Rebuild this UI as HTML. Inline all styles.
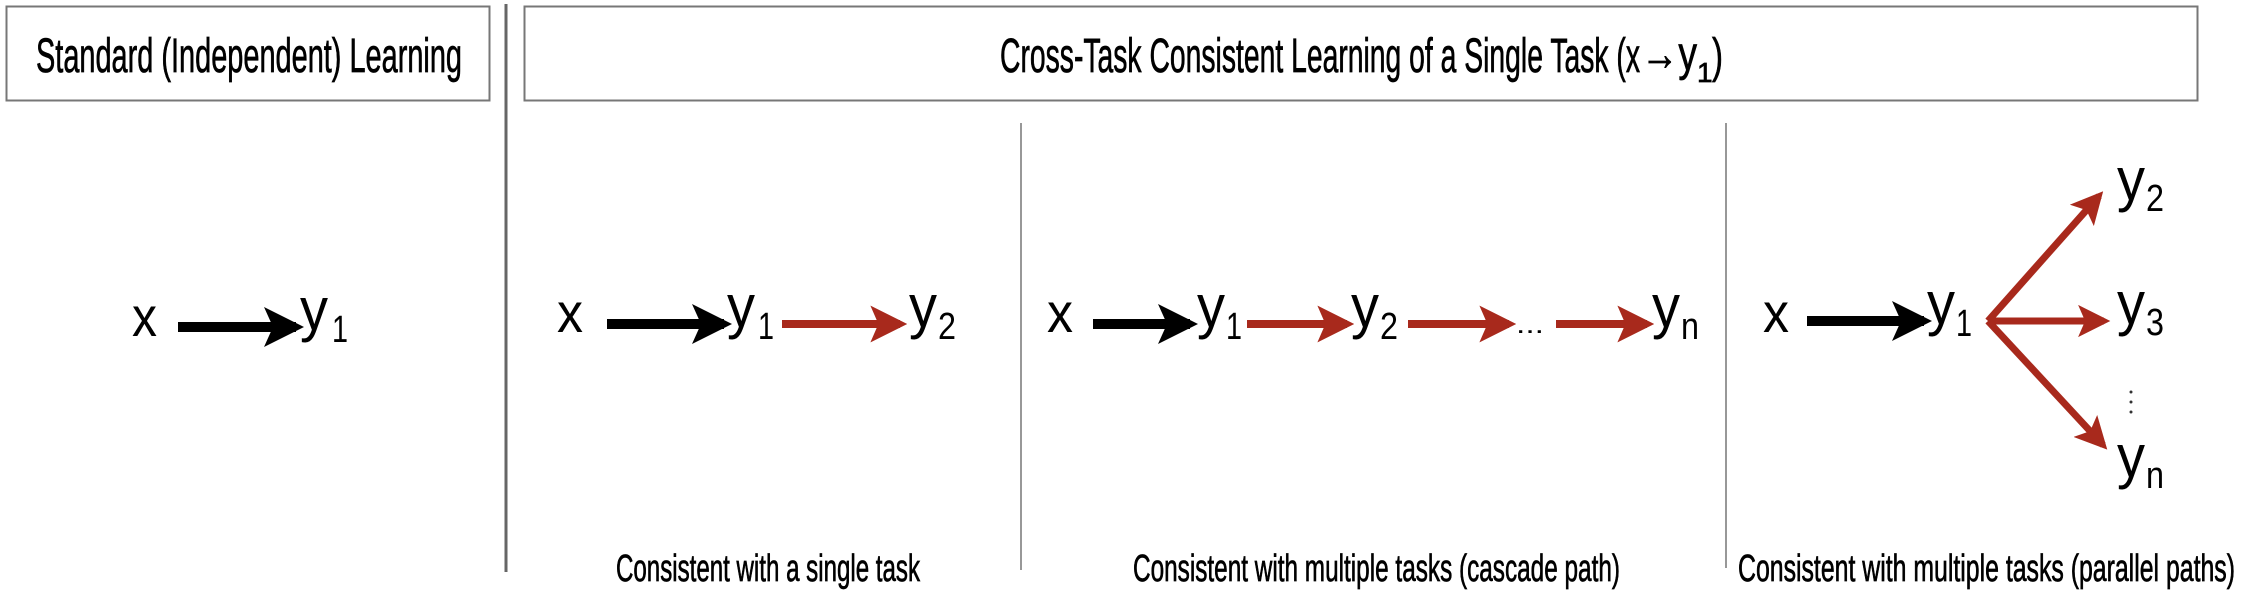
<!DOCTYPE html>
<html><head><meta charset="utf-8"><style>
html,body{margin:0;padding:0;background:#fff}
svg{display:block}
text{font-family:"Liberation Sans",sans-serif}
.t{stroke:#000;stroke-width:0.7}
</style></head><body>
<svg width="2244" height="604" viewBox="0 0 2244 604" xmlns="http://www.w3.org/2000/svg">
<defs>
<marker id="hb" markerWidth="4" markerHeight="4" refX="3.2" refY="2" orient="auto" markerUnits="strokeWidth"><path d="M0,0 L4,2 L0,4 L0.9,2 z" fill="#000"/></marker>
<marker id="hr" markerWidth="4.6" markerHeight="4.6" refX="3.7" refY="2.3" orient="auto" markerUnits="strokeWidth"><path d="M0,0 L4.6,2.3 L0,4.6 L1,2.3 z" fill="#a8291c"/></marker>
</defs>
<!-- header boxes -->
<rect x="6.5" y="6.5" width="483" height="94" fill="none" stroke="#777" stroke-width="2"/>
<rect x="524.5" y="6.5" width="1673" height="94" fill="none" stroke="#777" stroke-width="2"/>
<text class="t" x="36" y="72" font-size="48" textLength="426" lengthAdjust="spacingAndGlyphs">Standard (Independent) Learning</text>
<text class="t" x="1000" y="72" font-size="48" textLength="640" lengthAdjust="spacingAndGlyphs">Cross-Task Consistent Learning of a Single Task (x</text>
<text class="t" x="1641" y="70" font-size="48" textLength="56" lengthAdjust="spacingAndGlyphs">→y</text>
<text class="t" x="1697" y="82" font-size="28">1</text>
<text class="t" x="1712" y="72" font-size="48" textLength="11" lengthAdjust="spacingAndGlyphs">)</text>
<!-- dividers -->
<line x1="506" y1="4" x2="506" y2="572" stroke="#666" stroke-width="3"/>
<line x1="1021" y1="123" x2="1021" y2="570" stroke="#777" stroke-width="1.5"/>
<line x1="1726" y1="123" x2="1726" y2="568" stroke="#777" stroke-width="1.5"/>

<!-- panel 1 -->
<text x="132" y="336" font-size="56" textLength="25" lengthAdjust="spacingAndGlyphs">x</text>
<line x1="178" y1="327" x2="296" y2="327" stroke="#000" stroke-width="10" marker-end="url(#hb)"/>
<text x="300" y="330" font-size="60" textLength="28" lengthAdjust="spacingAndGlyphs">y</text>
<text x="332" y="342" font-size="38" textLength="16" lengthAdjust="spacingAndGlyphs">1</text>

<!-- panel 2 -->
<text x="557" y="332" font-size="56" textLength="26" lengthAdjust="spacingAndGlyphs">x</text>
<line x1="607" y1="324" x2="724" y2="324" stroke="#000" stroke-width="10" marker-end="url(#hb)"/>
<text x="727" y="327" font-size="60" textLength="28" lengthAdjust="spacingAndGlyphs">y</text>
<text x="758" y="339" font-size="38" textLength="16" lengthAdjust="spacingAndGlyphs">1</text>
<line x1="782" y1="324" x2="900" y2="324" stroke="#a8291c" stroke-width="8" marker-end="url(#hr)"/>
<text x="909" y="327" font-size="60" textLength="28" lengthAdjust="spacingAndGlyphs">y</text>
<text x="938" y="339" font-size="38" textLength="18" lengthAdjust="spacingAndGlyphs">2</text>
<text class="t" x="616" y="581" font-size="38" textLength="304" lengthAdjust="spacingAndGlyphs">Consistent with a single task</text>

<!-- panel 3 -->
<text x="1047" y="332" font-size="56" textLength="26" lengthAdjust="spacingAndGlyphs">x</text>
<line x1="1093" y1="324" x2="1190" y2="324" stroke="#000" stroke-width="10" marker-end="url(#hb)"/>
<text x="1197" y="327" font-size="60" textLength="28" lengthAdjust="spacingAndGlyphs">y</text>
<text x="1226" y="339" font-size="38" textLength="16" lengthAdjust="spacingAndGlyphs">1</text>
<line x1="1247" y1="324" x2="1347" y2="324" stroke="#a8291c" stroke-width="8" marker-end="url(#hr)"/>
<text x="1351" y="327" font-size="60" textLength="28" lengthAdjust="spacingAndGlyphs">y</text>
<text x="1380" y="339" font-size="38" textLength="18" lengthAdjust="spacingAndGlyphs">2</text>
<line x1="1408" y1="324" x2="1509" y2="324" stroke="#a8291c" stroke-width="8" marker-end="url(#hr)"/>
<text x="1516" y="333" font-size="26" textLength="28" lengthAdjust="spacingAndGlyphs">...</text>
<line x1="1556" y1="324" x2="1647" y2="324" stroke="#a8291c" stroke-width="8" marker-end="url(#hr)"/>
<text x="1652" y="327" font-size="60" textLength="28" lengthAdjust="spacingAndGlyphs">y</text>
<text x="1681" y="339" font-size="38" textLength="18" lengthAdjust="spacingAndGlyphs">n</text>
<text class="t" x="1133" y="581" font-size="38" textLength="487" lengthAdjust="spacingAndGlyphs">Consistent with multiple tasks (cascade path)</text>

<!-- panel 4 -->
<text x="1763" y="332" font-size="56" textLength="26" lengthAdjust="spacingAndGlyphs">x</text>
<line x1="1807" y1="321" x2="1924" y2="321" stroke="#000" stroke-width="10" marker-end="url(#hb)"/>
<text x="1927" y="324" font-size="60" textLength="28" lengthAdjust="spacingAndGlyphs">y</text>
<text x="1956" y="336" font-size="38" textLength="16" lengthAdjust="spacingAndGlyphs">1</text>
<line x1="1988" y1="321" x2="2099" y2="196" stroke="#a8291c" stroke-width="7" marker-end="url(#hr)"/>
<line x1="1988" y1="321" x2="2104" y2="321" stroke="#a8291c" stroke-width="7" marker-end="url(#hr)"/>
<line x1="1988" y1="321" x2="2103" y2="445" stroke="#a8291c" stroke-width="7" marker-end="url(#hr)"/>
<text x="2117" y="200" font-size="60" textLength="28" lengthAdjust="spacingAndGlyphs">y</text>
<text x="2146" y="211" font-size="38" textLength="18" lengthAdjust="spacingAndGlyphs">2</text>
<text x="2117" y="324" font-size="60" textLength="28" lengthAdjust="spacingAndGlyphs">y</text>
<text x="2146" y="335" font-size="38" textLength="18" lengthAdjust="spacingAndGlyphs">3</text>
<circle cx="2131" cy="392" r="1.5" fill="#333"/>
<circle cx="2131" cy="402" r="1.5" fill="#333"/>
<circle cx="2131" cy="412" r="1.5" fill="#333"/>
<text x="2117" y="477" font-size="60" textLength="28" lengthAdjust="spacingAndGlyphs">y</text>
<text x="2146" y="488" font-size="38" textLength="18" lengthAdjust="spacingAndGlyphs">n</text>
<text class="t" x="1738" y="581" font-size="38" textLength="497" lengthAdjust="spacingAndGlyphs">Consistent with multiple tasks (parallel paths)</text>
</svg>
</body></html>
